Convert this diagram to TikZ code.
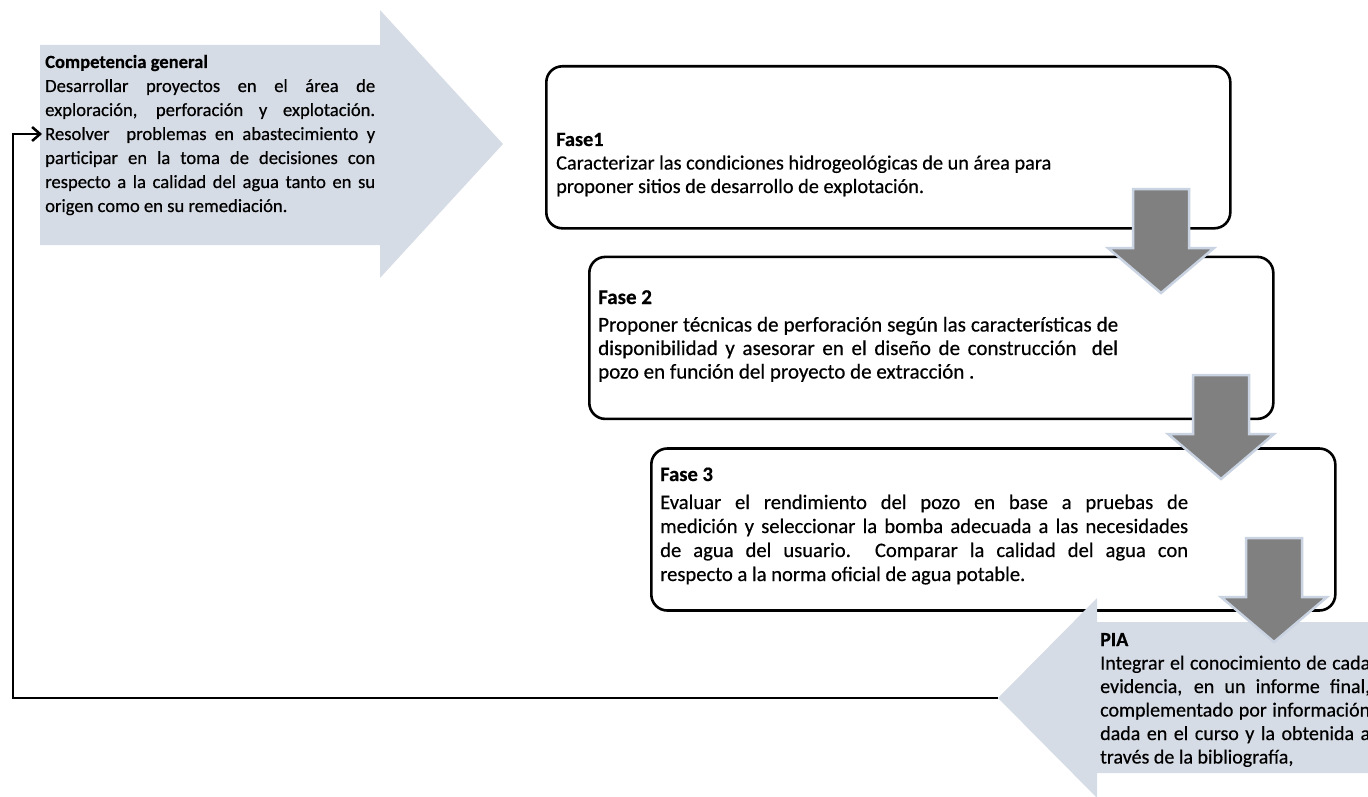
\documentclass[tikz,border=0pt]{standalone}
\usepackage{fontspec}
\setmainfont{Carlito}
\newfontfamily\cuerpo{Carlito}[FakeBold=0.5]
\usetikzlibrary{arrows.meta,positioning}
\definecolor{cgblue}{HTML}{D6DCE5}
\definecolor{grisflecha}{HTML}{808080}
\definecolor{bordeflecha}{HTML}{C9D3E2}
\hyphenpenalty=10000
\exhyphenpenalty=10000

\begin{document}
\begin{tikzpicture}[x=1pt,y=-1pt,
    fase/.style={draw=black, line width=2.6pt, rounded corners=16pt, fill=white,
      minimum width=684pt, minimum height=162pt, inner sep=0pt},
    txt/.style={anchor=base west, inner sep=0pt, align=justify},
    flecha/.style={fill=grisflecha, draw=bordeflecha, line width=2.5pt, line join=miter},
    conector/.style={draw=black, line width=2.5pt, -{Straight Barb[length=8pt,width=14pt]}}]
    \useasboundingbox (0,0) rectangle (1368,797);

    % fases
    \node (fase1) [fase, anchor=north west] at (545,65) {};
    \node (fase2) [fase, below right=26pt and 43pt of fase1.south west] {};
    \node (fase3) [fase, below right=27pt and 62pt of fase2.south west] {};

    % competencia general
    \fill[cgblue] (40,45) -- (380,45) -- (380,10) -- (503,144) -- (380,278)
        -- (380,245) -- (40,245) -- cycle;
    \coordinate (cgin) at (42,134);

    % PIA
    \fill[cgblue] (1375,622) -- (1097,622) -- (1097,598) -- (998,698) -- (1097,798)
        -- (1097,773) -- (1375,773) -- cycle;
    \coordinate (piatip) at (998,698);
    \coordinate (retorno) at (13,698);

    \draw[conector] (piatip) -- (retorno) |- (cgin);

    % textos
    \node (cgtxt) [txt, text width=330pt, font=\cuerpo\fontsize{18.6}{24}\selectfont]
        at (45,68) {{\bfseries Competencia general}\\
        Desarrollar proyectos en el área de\linebreak
        exploración, perforación y explotación.\linebreak
        Resolver\ \ problemas en abastecimiento y\linebreak
        participar en la toma de decisiones con\linebreak
        respecto a la calidad del agua tanto en su\linebreak
        origen como en su remediación.};
    \node (f1txt) [txt, text width=600pt, font=\cuerpo\fontsize{20.3}{23.5}\selectfont]
        at (556,146) {{\bfseries Fase1}\\
        Caracterizar las condiciones hidrogeológicas de un área para\\
        proponer sitios de desarrollo de explotación.};
    \node (f2txt) [txt, text width=520pt, font=\cuerpo\fontsize{21}{23.5}\selectfont]
        at (598,304) {{\bfseries Fase 2}\\[4pt]
        Proponer técnicas de perforación según las características de\linebreak
        disponibilidad y asesorar en el diseño de construcción\ \ del\linebreak
        pozo en función del proyecto de extracción .};
    \node (f3txt) [txt, text width=528pt, font=\cuerpo\fontsize{20.6}{24}\selectfont]
        at (660,481) {{\bfseries Fase 3}\\[4pt]
        Evaluar el rendimiento del pozo en base a pruebas de\linebreak
        medición y seleccionar la bomba adecuada a las necesidades\linebreak
        de agua del usuario.\ \ Comparar la calidad del agua con\linebreak
        respecto a la norma oficial de agua potable.};
    \node (piatxt) [txt, text width=270pt, font=\cuerpo\fontsize{20}{23.5}\selectfont]
        at (1100,646) {{\bfseries PIA}\\
        Integrar el conocimiento de cada\linebreak
        evidencia, en un informe final,\linebreak
        complementado por información\linebreak
        dada en el curso y la obtenida a\linebreak
        través de la bibliografía,};

    % flechas entre fases
    \foreach \cx/\ty in {1161/189, 1221/375, 1274/538} {
        \draw[flecha] (\cx-28,\ty) -- (\cx+28,\ty) -- (\cx+28,\ty+59) -- (\cx+53,\ty+59)
            -- (\cx,\ty+104) -- (\cx-53,\ty+59) -- (\cx-28,\ty+59) -- cycle;
    }
\end{tikzpicture}
\end{document}
